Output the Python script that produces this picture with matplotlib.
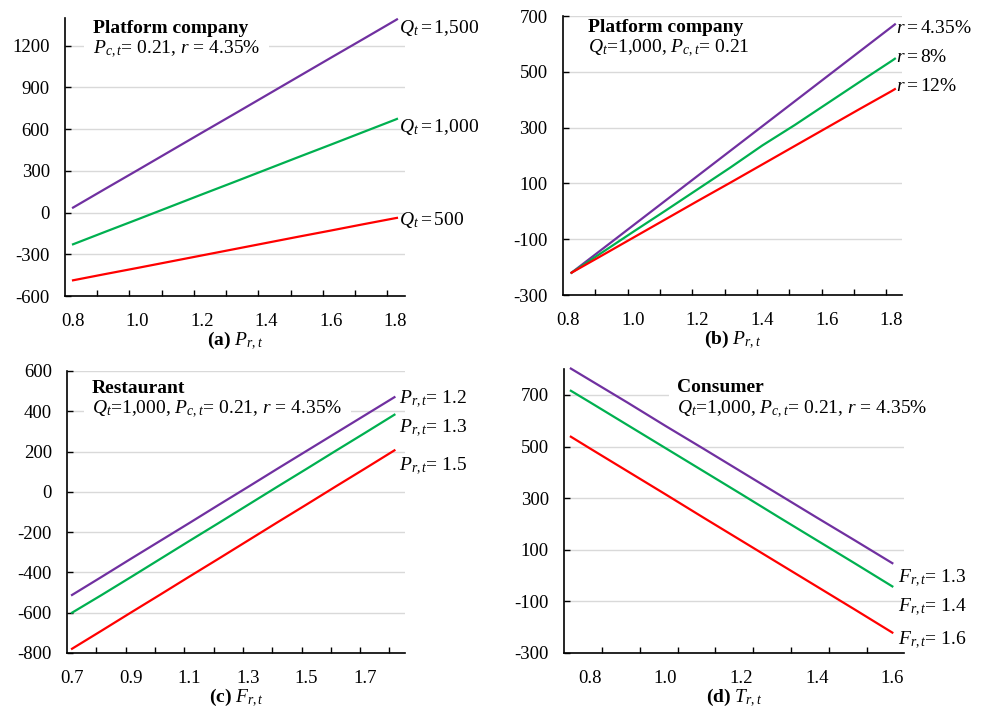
import numpy as np
import matplotlib
matplotlib.use("Agg")
import matplotlib.pyplot as plt
from matplotlib.transforms import offset_copy

plt.rcParams['font.family'] = ['Liberation Serif', 'DejaVu Serif']
plt.rcParams['mathtext.fontset'] = 'custom'
plt.rcParams['mathtext.rm'] = 'Liberation Serif'
plt.rcParams['mathtext.it'] = 'Liberation Serif:italic'
plt.rcParams['mathtext.bf'] = 'Liberation Serif:bold'
plt.rcParams['axes.unicode_minus'] = False

PURPLE = '#7030A0'
GREEN = '#00B050'
RED = '#FF0000'

# (a) platform company vs P_rt for three Q_t
x_a = [0.8, 0.9, 1.0, 1.1, 1.2, 1.3, 1.4, 1.5, 1.6, 1.7, 1.8, 1.805]
a_q1500 = [36, 171, 305, 440, 575, 709, 844, 979, 1114, 1248, 1383, 1390]
a_q1000 = [-228, -138, -49, 41, 131, 220, 310, 400, 489, 579, 669, 674]
a_q500 = [-487, -442, -398, -353, -308, -263, -218, -173, -129, -84, -40, -38]
a_labels = [r'$Q_t = 1{,}500$', r'$Q_t = 1{,}000$', r'$Q_t = 500$']
a_label_y = [1330, 617, -55]

# (b) platform company vs P_rt for three r
x_b = [0.81, 0.9, 1.0, 1.1, 1.2, 1.3, 1.4, 1.5, 1.6, 1.7, 1.8, 1.81]
b_r435 = [-220, -140, -51, 38, 127, 216, 305, 394, 483, 572, 661, 670]
b_r8 = [-220, -151, -74, 2, 79, 156, 236, 309, 386, 463, 539, 547]
b_r12 = [-220, -161, -95, -29, 37, 102, 168, 234, 300, 366, 431, 438]
b_labels = [r'$r = 4.35\%$', r'$r = 8\%$', r'$r = 12\%$']
b_label_y = [655, 551, 448]

# (c) restaurant vs F_rt for three P_rt
x_c = [0.7, 0.8, 0.9, 1.0, 1.1, 1.2, 1.3, 1.4, 1.5, 1.6, 1.7, 1.8]
c_p12 = [-512, -423, -333, -244, -155, -65, 24, 114, 203, 292, 381, 470]
c_p13 = [-600, -513, -424, -334, -244, -155, -65, 25, 114, 204, 293, 383]
c_p15 = [-779, -690, -600, -511, -421, -332, -242, -152, -63, 27, 116, 206]
c_labels = [r'$P_{r,t}$= 1.2', r'$P_{r,t}$= 1.3', r'$P_{r,t}$= 1.5']
c_label_y = [457, 314, 127]

# (d) consumer vs T_rt for three F_rt
x_d = [0.75, 0.8, 0.9, 1.0, 1.1, 1.2, 1.3, 1.4, 1.5, 1.6]
d_f13 = [802, 758, 670, 580, 492, 403, 314, 225, 137, 48]
d_f14 = [716, 672, 583, 494, 405, 316, 226, 137, 48, -42]
d_f16 = [538, 493, 404, 315, 225, 136, 47, -42, -131, -221]
d_labels = [r'$F_{r,t}$= 1.3', r'$F_{r,t}$= 1.4', r'$F_{r,t}$= 1.6']
d_label_y = [-10, -122, -251]

fig = plt.figure(figsize=(9.83, 7.08), dpi=100)

panels = [
    dict(rect=[0.0661, 0.5819, 0.3459, 0.3927], x=x_a, ys=[a_q1500, a_q1000, a_q500],
         labels=a_labels, label_y=a_label_y, xlim=(0.775, 1.83), ylim=(-600, 1400),
         yticks=[-600, -300, 0, 300, 600, 900, 1200], xticks=[0.8, 1.0, 1.2, 1.4, 1.6, 1.8],
         xlabel=r'$\mathbf{(a)}\ P_{r,t}$', title='Platform company',
         sub=r'$P_{c,t}$= 0.21, $r$ = 4.35%', tpos=(0.082, 0.946, 0.874)),
    dict(rect=[0.5727, 0.5833, 0.3449, 0.3941], x=x_b, ys=[b_r435, b_r8, b_r12],
         labels=b_labels, label_y=b_label_y, xlim=(0.7835, 1.832), ylim=(-300, 700),
         yticks=[-300, -100, 100, 300, 500, 700], xticks=[0.8, 1.0, 1.2, 1.4, 1.6, 1.8],
         xlabel=r'$\mathbf{(b)}\ P_{r,t}$', title='Platform company',
         sub=r'$Q_t$=1,000, $P_{c,t}$= 0.21', tpos=(0.074, 0.943, 0.871)),
    dict(rect=[0.0682, 0.0777, 0.3438, 0.3983], x=x_c, ys=[c_p12, c_p13, c_p15],
         labels=c_labels, label_y=c_label_y, xlim=(0.683, 1.836), ylim=(-800, 600),
         yticks=[-800, -600, -400, -200, 0, 200, 400, 600], xticks=[0.7, 0.9, 1.1, 1.3, 1.5, 1.7],
         xlabel=r'$\mathbf{(c)}\ F_{r,t}$', title='Restaurant',
         sub=r'$Q_t$=1,000, $P_{c,t}$= 0.21, $r$ = 4.35%', tpos=(0.074, 0.922, 0.848)),
    dict(rect=[0.5738, 0.0777, 0.3459, 0.4010], x=x_d, ys=[d_f13, d_f14, d_f16],
         labels=d_labels, label_y=d_label_y, xlim=(0.732, 1.631), ylim=(-300, 800),
         yticks=[-300, -100, 100, 300, 500, 700], xticks=[0.8, 1.0, 1.2, 1.4, 1.6],
         xlabel=r'$\mathbf{(d)}\ T_{r,t}$', title='Consumer',
         sub=r'$Q_t$=1,000, $P_{c,t}$= 0.21, $r$ = 4.35%', tpos=(0.332, 0.919, 0.845)),
]

for p in panels:
    ax = fig.add_axes(p['rect'])
    for y, c in zip(p['ys'], [PURPLE, GREEN, RED]):
        ax.plot(p['x'], y, color=c, lw=1.6, zorder=3, clip_on=False)
    ax.set_xlim(*p['xlim'])
    ax.set_ylim(*p['ylim'])
    ax.set_yticks(p['yticks'])
    ax.set_xticks(p['xticks'])
    ax.set_xticklabels(['%.1f' % v for v in p['xticks']])
    # tick marks sit every 0.1 from the left edge, not at the labels
    x0 = p['xlim'][0]
    ax.set_xticks(np.arange(x0 + 0.1, p['xlim'][1] + 0.001, 0.1), minor=True)
    ax.tick_params(axis='x', which='major', length=0, pad=12, labelsize=13.5)
    ax.tick_params(axis='x', which='minor', direction='in', length=4, width=1)
    ax.tick_params(axis='y', direction='in', length=4, width=1, pad=11, labelsize=13.5)
    ax.grid(axis='y', color='#D9D9D9', lw=1)
    ax.set_axisbelow(True)
    for s in ['top', 'right']:
        ax.spines[s].set_visible(False)
    for s in ['left', 'bottom']:
        ax.spines[s].set_linewidth(1.2)
    ax.set_xlabel(p['xlabel'], fontsize=14, labelpad=0)
    lab_tr = offset_copy(ax.get_yaxis_transform(), fig=fig, x=-6, y=0, units='dots')
    for lab, ly in zip(p['labels'], p['label_y']):
        ax.text(1.0, ly, lab, transform=lab_tr, fontsize=14,
                ha='left', va='center', clip_on=False)
    tx, ty, sy = p['tpos']
    ax.text(tx, sy, p['sub'], transform=ax.transAxes, fontsize=14,
            va='baseline', ha='left', zorder=2,
            bbox=dict(facecolor='white', edgecolor='none', pad=6))
    ax.text(tx, ty, p['title'], transform=ax.transAxes, fontsize=14, fontweight='bold',
            va='baseline', ha='left', zorder=2.2,
            bbox=dict(facecolor='white', edgecolor='none', pad=1))

fig.savefig('out.png', dpi=100)
